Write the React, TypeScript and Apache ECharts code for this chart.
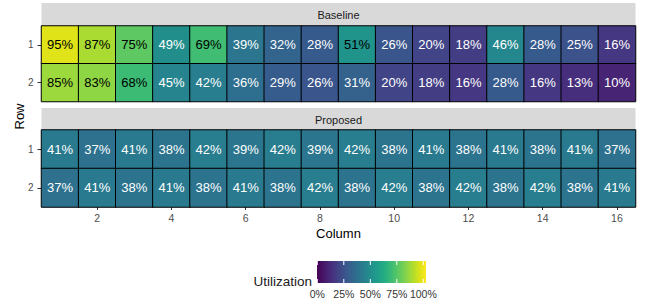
import React, { useEffect, useRef } from "react";
import * as echarts from "echarts";

const columns = ["1", "2", "3", "4", "5", "6", "7", "8", "9", "10", "11", "12", "13", "14", "15", "16"];
const rows = ["1", "2"];
const baselineRow1 = [95, 87, 75, 49, 69, 39, 32, 28, 51, 26, 20, 18, 46, 28, 25, 16];
const baselineRow2 = [85, 83, 68, 45, 42, 36, 29, 26, 31, 20, 18, 16, 28, 16, 13, 10];
const proposedRow1 = [41, 37, 41, 38, 42, 39, 42, 39, 42, 38, 41, 38, 41, 38, 41, 37];
const proposedRow2 = [37, 41, 38, 41, 38, 41, 38, 42, 38, 42, 38, 42, 38, 42, 38, 41];
const legendTicks = [0, 25, 50, 75, 100];
const viridis = [
  "#440154", "#471365", "#482475", "#463480", "#414487", "#3b528b", "#355f8d",
  "#2f6c8e", "#2a788e", "#25848e", "#21918c", "#1e9c89", "#22a884", "#2fb47c",
  "#44bf70", "#5ec962", "#7ad151", "#9bd93c", "#bddf26", "#dfe318", "#fde725",
];

const FONT = "'Liberation Sans', Arial, Helvetica, sans-serif";

function toData(r1: number[], r2: number[]) {
  const out: any[] = [];
  [r1, r2].forEach((row, ri) => {
    row.forEach((v, ci) => {
      out.push({ value: [ci, ri, v], label: { color: v >= 50 ? "#000000" : "#ffffff" } });
    });
  });
  return out;
}

export default function App() {
  const ref = useRef<HTMLDivElement>(null);
  useEffect(() => {
    if (!ref.current) return;
    const chart = echarts.init(ref.current, null, { renderer: "svg" });
    const L = 41.5, R = 635.5;
    const barX0 = 317.3, barX1 = 423.3;
    const evenOnly = (i: number) => i % 2 === 1;
    const yAxisBase = {
      type: "category",
      data: rows,
      inverse: true,
      axisLine: { show: false },
      axisTick: { show: true, length: 4, alignWithLabel: true, lineStyle: { color: "#333333" } },
      axisLabel: { color: "#4d4d4d", fontSize: 10, fontFamily: FONT, margin: 8 },
      splitLine: { show: false },
    };
    const gradStops = viridis.map((c, i) => ({ offset: i / (viridis.length - 1), color: c }));
    const graphics: any[] = [
      { type: "rect", shape: { x: L, y: 3, width: R - L, height: 23 }, style: { fill: "#d9d9d9" } },
      { type: "text", x: (L + R) / 2, y: 15, style: { text: "Baseline", fontSize: 11, fontFamily: FONT, fill: "#1a1a1a", align: "center", verticalAlign: "middle" } },
      { type: "rect", shape: { x: L, y: 108, width: R - L, height: 22 }, style: { fill: "#d9d9d9" } },
      { type: "text", x: (L + R) / 2, y: 119.5, style: { text: "Proposed", fontSize: 11, fontFamily: FONT, fill: "#1a1a1a", align: "center", verticalAlign: "middle" } },
      { type: "text", x: 19, y: 116.5, rotation: Math.PI / 2, style: { text: "Row", fontSize: 13, fontFamily: FONT, fill: "#000", align: "center", verticalAlign: "middle" } },
      { type: "text", x: 312, y: 281, style: { text: "Utilization", fontSize: 13.5, fontFamily: FONT, fill: "#1a1a1a", align: "right", verticalAlign: "middle" } },
      {
        type: "rect",
        shape: { x: 317, y: 261, width: 109, height: 22 },
        style: { fill: new echarts.graphic.LinearGradient(0, 0, 1, 0, gradStops) },
      },
    ];
    legendTicks.forEach((t) => {
      const x = barX0 + (t / 100) * (barX1 - barX0);
      graphics.push({ type: "line", shape: { x1: x, y1: 261, x2: x, y2: 265 }, style: { stroke: "#ffffff", lineWidth: 1 } });
      graphics.push({ type: "line", shape: { x1: x, y1: 279, x2: x, y2: 283 }, style: { stroke: "#ffffff", lineWidth: 1 } });
      graphics.push({ type: "text", x, y: 293.5, style: { text: t + "%", fontSize: 10.5, fontFamily: FONT, fill: "#333333", align: "center", verticalAlign: "middle" } });
    });

    const labelCfg = { show: true, fontSize: 13, fontFamily: FONT, formatter: (p: any) => p.value[2] + "%" };
    chart.setOption({
      animation: false,
      backgroundColor: "#ffffff",
      textStyle: { fontFamily: FONT },
      grid: [
        { left: L, top: 26, width: R - L, height: 75.5 },
        { left: L, top: 130, width: R - L, height: 77 },
      ],
      xAxis: [
        { type: "category", data: columns, gridIndex: 0, show: false },
        {
          type: "category",
          data: columns,
          gridIndex: 1,
          axisLine: { show: false },
          axisTick: { show: true, length: 3, interval: evenOnly, alignWithLabel: true, lineStyle: { color: "#333333" } },
          axisLabel: { color: "#4d4d4d", fontSize: 10.5, fontFamily: FONT, interval: evenOnly, margin: 5 },
          splitLine: { show: false },
          name: "Column",
          nameLocation: "middle",
          nameGap: 20,
          nameTextStyle: { fontSize: 13, color: "#000", fontFamily: FONT },
        },
      ],
      yAxis: [
        { ...yAxisBase, gridIndex: 0 },
        { ...yAxisBase, gridIndex: 1 },
      ],
      visualMap: {
        type: "continuous",
        show: false,
        min: 0,
        max: 100,
        dimension: 2,
        seriesIndex: [0, 1],
        inRange: { color: viridis },
      },
      series: [
        {
          type: "heatmap",
          xAxisIndex: 0,
          yAxisIndex: 0,
          data: toData(baselineRow1, baselineRow2),
          label: labelCfg,
          itemStyle: { borderColor: "#000000", borderWidth: 1 },
          emphasis: { disabled: true },
        },
        {
          type: "heatmap",
          xAxisIndex: 1,
          yAxisIndex: 1,
          data: toData(proposedRow1, proposedRow2),
          label: labelCfg,
          itemStyle: { borderColor: "#000000", borderWidth: 1 },
          emphasis: { disabled: true },
        },
      ],
      graphic: graphics,
    });
    return () => chart.dispose();
  }, []);
  return <div ref={ref} style={{ position: "fixed", left: 0, top: 0, width: 651, height: 306 }} />;
}
